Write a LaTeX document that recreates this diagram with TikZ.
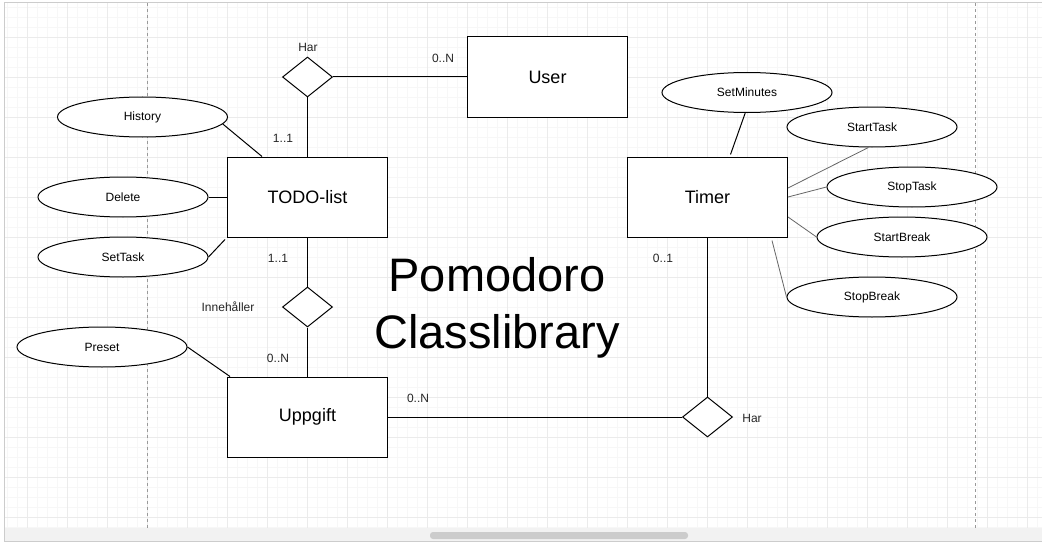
\documentclass[tikz,border=0pt]{standalone}
\usepackage{fontspec}
\setmainfont{Liberation Sans}
\usetikzlibrary{shapes.geometric,calc}
\begin{document}
\begin{tikzpicture}[x=1pt,y=-1pt,
  entity/.style={draw=black,line width=1pt,fill=white,minimum width=160pt,minimum height=80pt,inner sep=0pt,font=\fontsize{18}{21}\selectfont},
  attr/.style={draw=black,line width=1pt,fill=white,ellipse,minimum width=170pt,minimum height=40pt,inner sep=0pt,font=\fontsize{12}{14}\selectfont},
  rel/.style={draw=black,line width=1pt,fill=white,diamond,minimum width=50pt,minimum height=40pt,inner sep=0pt},
  lbl/.style={inner sep=0pt,text=black!85,font=\fontsize{12}{14}\selectfont},
  conn/.style={draw=black,line width=1pt},
  thin/.style={draw=black!60,line width=0.8pt}]
\useasboundingbox (0,0) rectangle (1042,543);
\fill[white] (0,0) rectangle (1042,543);
% grid
\foreach \x in {7,17,...,1037} \draw[black!3,line width=0.6pt] (\x,3) -- (\x,528);
\foreach \y in {7,17,...,527} \draw[black!3,line width=0.6pt] (4,\y) -- (1042,\y);
\foreach \x in {27,67,...,1027} \draw[black!8,line width=0.8pt] (\x,3) -- (\x,528);
\foreach \y in {37,77,...,517} \draw[black!8,line width=0.8pt] (4,\y) -- (1042,\y);
\draw[black!40,dashed,line width=0.8pt] (147,3) -- (147,528);
\draw[black!40,dashed,line width=0.8pt] (975,3) -- (975,528);
% frame and scrollbar
\fill[black!5] (4,528) rectangle (1042,541);
\fill[black!20,rounded corners=3pt] (430,532) rectangle (688,539);
\draw[black!20,line width=0.8pt] (4,541) -- (4,2.5) -- (1042,2.5);
\draw[black!20,line width=0.8pt] (4,541) -- (1042,541);
% entities
\node[entity] (user) at (547.5,77) {User};
\node[entity] (todo) at (307.5,197) {TODO-list};
\node[entity] (upp) at (307.5,417) {Uppgift};
\node[entity] (timer) at (707.5,197) {Timer};
% relations
\node[rel] (har1) at (307.5,77) {};
\node[rel] (inn) at (307.5,307) {};
\node[rel] (har2) at (707.5,417) {};
% attributes
\node[attr] (hist) at (142.5,117) {History};
\node[attr] (del) at (123,197) {Delete};
\node[attr] (set) at (123,257) {SetTask};
\node[attr] (pre) at (102,347) {Preset};
\node[attr] (setmin) at (747,92.5) {SetMinutes};
\node[attr] (stt) at (872,127) {StartTask};
\node[attr] (stpt) at (912,187) {StopTask};
\node[attr] (stb) at (902,237) {StartBreak};
\node[attr] (stpb) at (872,297) {StopBreak};
% title
\node[align=center,inner sep=0pt,font=\fontsize{47}{56.5}\selectfont] (title) at (497,308) {Pomodoro\\Classlibrary};
% connectors
\draw[conn] (har1.east) -- (user.west);
\draw[conn] (har1.south) -- (todo.north);
\draw[conn] (todo.south) -- (inn.north);
\draw[conn] (inn.south) -- (upp.north);
\draw[conn] (upp.east) -- (har2.west);
\draw[conn] (timer.south) -- (har2.north);
\draw[conn] (hist.-5) -- ($(todo.north west)+(35,0)$);
\draw[conn] (del.east) -- (todo.west);
\draw[conn] (set.east) -- ($(todo.south west)+(-2,2)$);
\draw[conn] (pre.east) -- ($(upp.north west)+(3,0)$);
\draw[conn] (setmin.-95) -- ($(timer.north)+(23,-2)$);
\draw[thin] (stt.-100) -- ($(timer.east)+(0,-9)$);
\draw[thin] (stpt.west) -- (timer.east);
\draw[thin] (stb.west) -- ($(timer.east)+(0,20)$);
\draw[thin] (stpb.west) -- ($(timer.south east)+(-16,3)$);
% labels
\node[lbl] (l1) at (308,47) {Har};
\node[lbl] (l2) at (443,58) {0..N};
\node[lbl] (l3) at (283,138) {1..1};
\node[lbl] (l4) at (278,258) {1..1};
\node[lbl] (l5) at (228,307) {Innehåller};
\node[lbl] (l6) at (278,358) {0..N};
\node[lbl] (l7) at (418,398) {0..N};
\node[lbl] (l8) at (752,418) {Har};
\node[lbl] (l9) at (663,258) {0..1};
\end{tikzpicture}
\end{document}
